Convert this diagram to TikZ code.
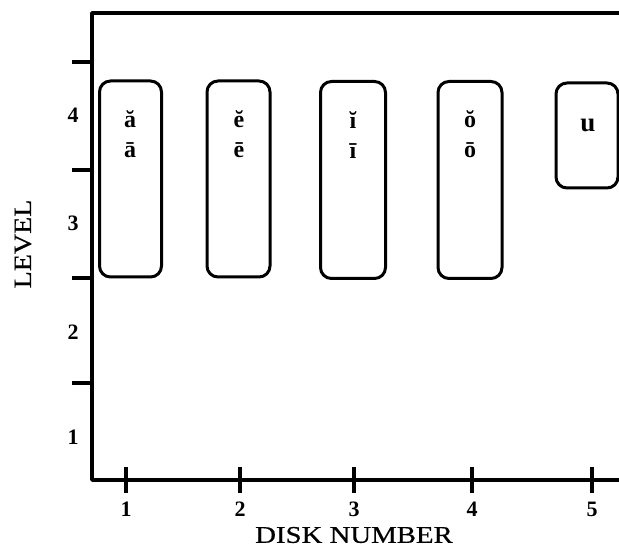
\documentclass[tikz,border=0pt]{standalone}
\usepackage{fontspec}
\setmainfont{Liberation Serif}
\newfontfamily\widefont[FakeStretch=1.2,FakeBold=0.6]{Liberation Serif}
\newfontfamily\levelfont[FakeStretch=1.12,FakeBold=0.6]{Liberation Serif}
\begin{document}
\begin{tikzpicture}[x=1pt,y=-1pt,
  axis/.style={line width=3.6pt,line cap=round,line join=round},
  tick/.style={line width=3.6pt},
  disk/.style={draw,line width=3pt,rounded corners=11pt},
  num/.style={font=\fontsize{22}{22}\selectfont\bfseries,inner sep=0pt},
  vow/.style={font=\fontsize{24}{24}\selectfont\bfseries,inner sep=0pt},
  lab/.style={font=\fontsize{24}{24}\selectfont\widefont,inner sep=0pt}]
\useasboundingbox (0,0) rectangle (619,548);
% axes
\coordinate (tl) at (92,13);
\coordinate (tr) at (621,13);
\coordinate (o) at (92,480);
\coordinate (xr) at (621,480);
\draw[axis] (tr) -- (tl) -- (o) -- (xr);
% y ticks
\foreach \y/\n in {62/a,170/b,278/c,383/d}{
  \coordinate (yt\n) at (72,\y);
  \draw[tick] (yt\n) -- (92,\y);
}
\foreach \y/\t in {115/4,223/3,332/2,437/1}{
  \node[num] (yl\t) at (73,\y) {\t};
}
% x ticks
\foreach \x/\t in {126/1,240/2,354/3,472/4,592/5}{
  \coordinate (xt\t) at (\x,467);
  \draw[tick] (xt\t) -- (\x,493);
  \node[num] (xl\t) at (\x,509) {\t};
}
\node[lab] (xlab) at (354,535) {DISK NUMBER};
\node[lab,font=\fontsize{25}{25}\selectfont\levelfont,rotate=90] (ylab) at (23,244) {LEVEL};
% disks
\node[disk,minimum width=62pt,minimum height=196pt] (d1) at (130.5,179) {};
\node[disk,minimum width=63pt,minimum height=196pt] (d2) at (238.5,179) {};
\node[disk,minimum width=65pt,minimum height=197pt] (d3) at (353,180) {};
\node[disk,minimum width=64pt,minimum height=197pt] (d4) at (470,180) {};
\node[disk,minimum width=62pt,minimum height=105pt] (d5) at (587,135.5) {};
% vowels
\node[vow] (v1a) at (130,119) {ă};
\node[vow] (v1b) at (130,150) {ā};
\node[vow] (v2a) at (239,119) {ĕ};
\node[vow] (v2b) at (239,150) {ē};
\node[vow] (v3a) at (353,120) {ĭ};
\node[vow] (v3b) at (353,151) {ī};
\node[vow] (v4a) at (470,119) {ŏ};
\node[vow] (v4b) at (470,150) {ō};
\node[vow,font=\fontsize{27}{27}\selectfont\bfseries] (v5) at (588,125) {u};
\end{tikzpicture}
\end{document}
